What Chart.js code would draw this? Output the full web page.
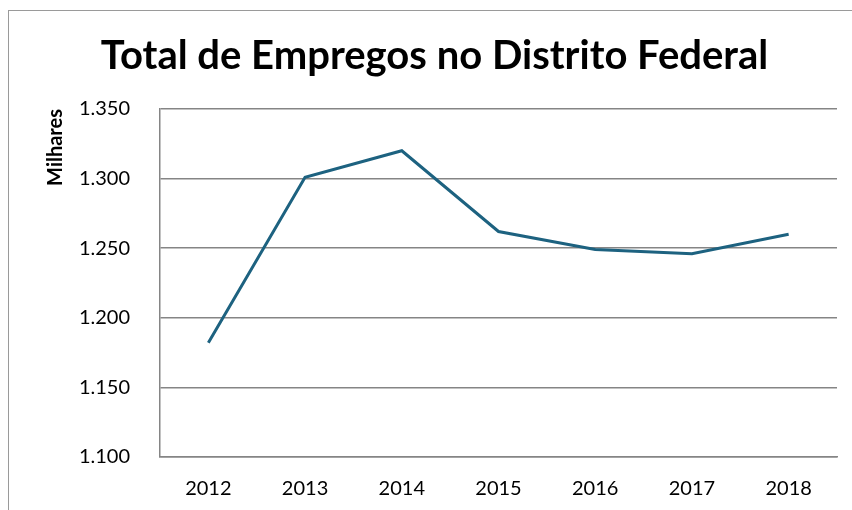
<!DOCTYPE html>
<html>
<head>
<meta charset="utf-8">
<script src="https://cdn.jsdelivr.net/npm/chart.js@4.4.1/dist/chart.umd.min.js"></script>
<style>
  html, body { margin: 0; padding: 0; background: #fff; overflow: hidden; }
  #frame {
    position: absolute; left: 8px; top: 10px; width: 1000px; height: 1000px;
    border-left: 1px solid #9a9a9a; border-top: 1px solid #9a9a9a;
  }
  #wrap { position: absolute; left: 0; top: 0; width: 852px; height: 510px; }
</style>
</head>
<body>
<div id="frame"></div>
<div id="wrap"><canvas id="chart" width="852" height="510"></canvas></div>
<script>
const years = ['2012', '2013', '2014', '2015', '2016', '2017', '2018']
const empregos = [1182, 1301, 1320, 1262, 1249, 1246, 1260]
const yMin = 1100
const yMax = 1350
const yStep = 50
const chartTitle = 'Total de Empregos no Distrito Federal'
const yAxisTitle = 'Milhares'

// portuguese thousands separator: 1350 -> "1.350"
function formatMilhar(v) {
  const n = Math.round(v)
  return Math.floor(n / 1000) + '.' + String(n % 1000).padStart(3, '0')
}

const gridColor = '#858585'

new Chart(document.getElementById('chart'), {
  type: 'line',
  data: {
    labels: years,
    datasets: [
      {
        label: 'Empregos',
        data: empregos,
        borderColor: '#1d6280',
        borderWidth: 3,
        tension: 0,
        pointRadius: 0,
        fill: false
      }
    ]
  },
  options: {
    responsive: false,
    animation: false,
    layout: {
      padding: { left: 32, right: 15, top: 0, bottom: 0 }
    },
    scales: {
      x: {
        offset: true,
        grid: { display: false, drawTicks: false },
        border: { display: true, color: gridColor, width: 1.5 },
        ticks: {
          color: '#000',
          padding: 20,
          font: { family: 'Lato', size: 20 }
        },
        afterFit: function(scale) { scale.height = 53 }
      },
      y: {
        min: yMin,
        max: yMax,
        grid: { color: gridColor, lineWidth: 1.5, drawTicks: false },
        border: { display: true, color: gridColor, width: 1.5 },
        ticks: {
          stepSize: yStep,
          color: '#000',
          padding: 30,
          font: { family: 'Lato', size: 20 },
          callback: function(value) { return formatMilhar(value) }
        },
        title: {
          display: true,
          text: yAxisTitle,
          align: 'end',
          color: '#000',
          padding: { top: 12, bottom: 0 },
          font: { family: 'Lato', size: 20, weight: 'bold' }
        },
        afterFit: function(scale) { scale.width = 128 }
      }
    },
    plugins: {
      legend: { display: false },
      tooltip: { enabled: false },
      title: {
        display: true,
        text: chartTitle,
        color: '#000',
        padding: { top: 32, bottom: 29 },
        font: { family: 'Lato', size: 40, weight: 'bold' }
      }
    }
  }
})
</script>
</body>
</html>
